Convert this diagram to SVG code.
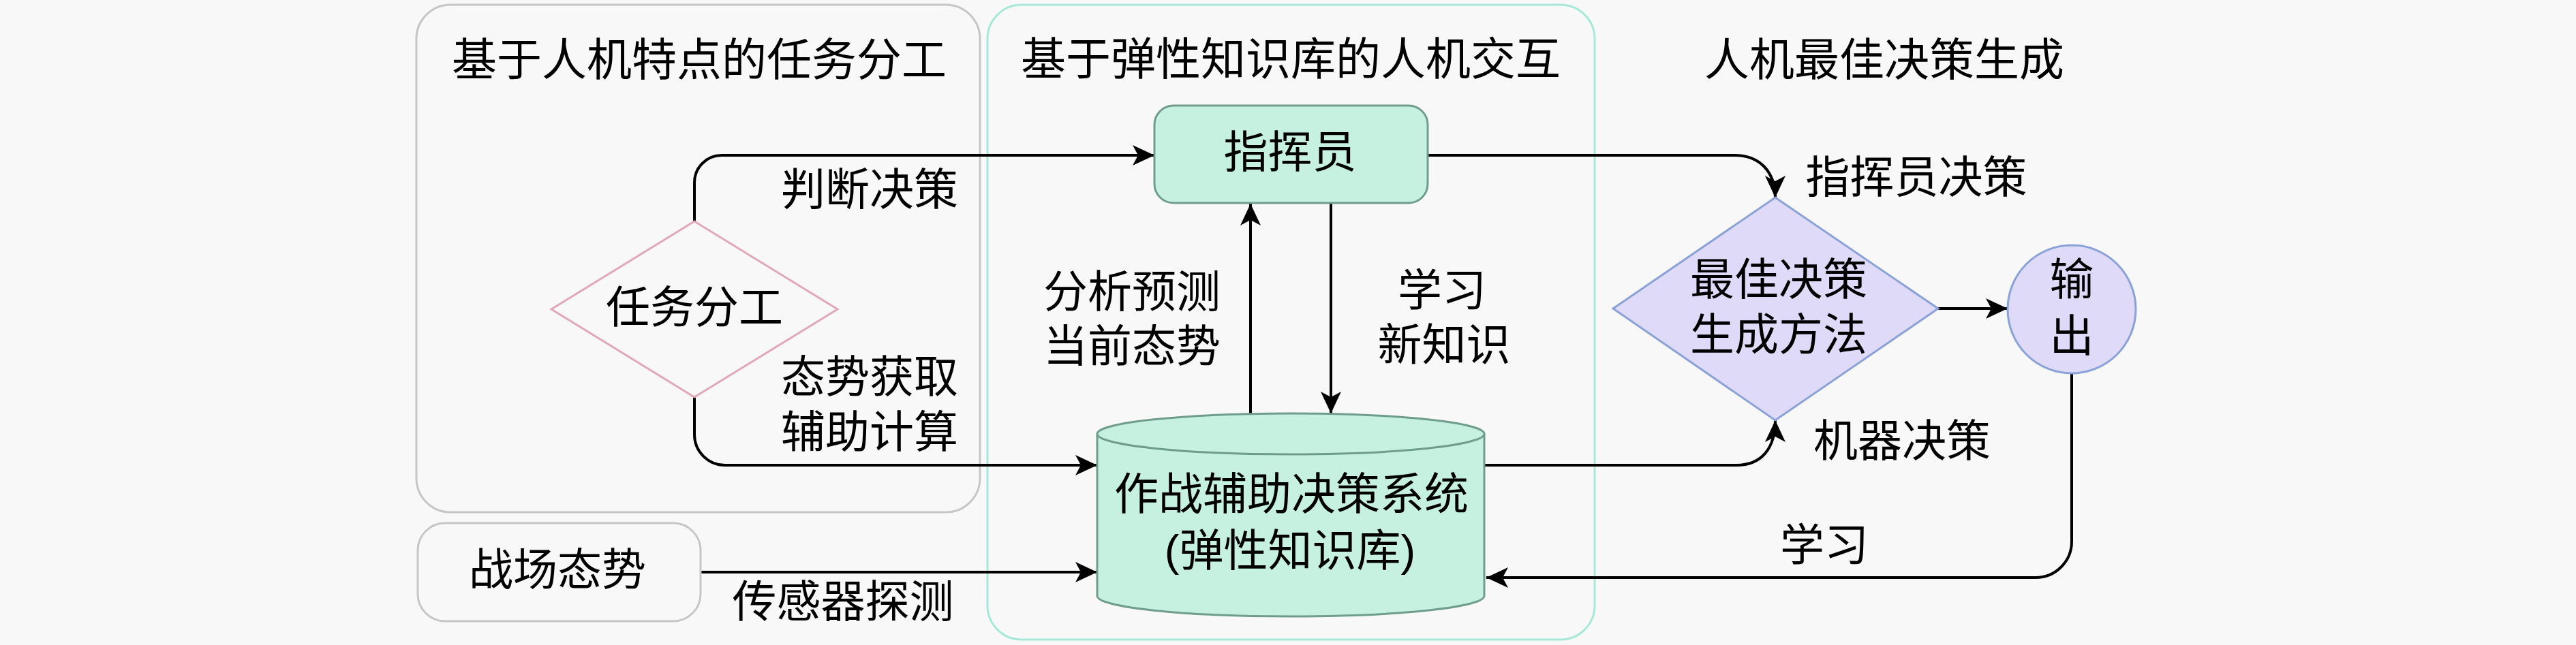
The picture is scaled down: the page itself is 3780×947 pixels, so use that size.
<svg xmlns="http://www.w3.org/2000/svg" width="3780" height="947" viewBox="0 0 3780 947">
<defs>
<style>
text{font-family:"Liberation Sans","Noto Sans CJK SC",sans-serif;font-size:65px;fill:#000;text-anchor:middle;dominant-baseline:central}
.title{font-size:66px}
.grp-gray{fill:none;stroke:#c6c6c6;stroke-width:3}
.grp-teal{fill:none;stroke:#a6e9d8;stroke-width:3}
.mint{fill:#c6f0e0;stroke:#6e9e8b;stroke-width:3}
.lav{fill:#dedaf8;stroke:#8aa2d6;stroke-width:3}
.pink{fill:#f8f8f8;stroke:#e0a8b8;stroke-width:3}
.plain{fill:#f8f8f8;stroke:#c6c6c6;stroke-width:3}
.edge{fill:none;stroke:#000;stroke-width:4;marker-end:url(#arr)}
</style>
<marker id="arr" markerUnits="userSpaceOnUse" markerWidth="36" markerHeight="34" refX="32" refY="15" orient="auto">
<path d="M0,0 L32,15 L0,30 L8,15 Z" fill="#000"/>
</marker>
</defs>
<rect x="0" y="0" width="3780" height="947" fill="#f8f8f8"/>

<g id="group-task">
<rect class="grp-gray" x="611" y="7" width="827" height="745" rx="50"/>
<text class="title" x="1026" y="88">基于人机特点的任务分工</text>
</g>
<g id="group-interaction">
<rect class="grp-teal" x="1449" y="7" width="891" height="932" rx="50"/>
<text class="title" x="1894" y="87">基于弹性知识库的人机交互</text>
</g>
<g id="group-best">
<text class="title" x="2765" y="88">人机最佳决策生成</text>
</g>

<g id="edges">
<path class="edge" d="M1019,325 V268 A40,40 0 0 1 1059,228 H1694"/>
<path class="edge" d="M1019,583 V638 A45,45 0 0 0 1064,683 H1610"/>
<path class="edge" d="M1028,840 H1610"/>
<path class="edge" d="M1835,607 V299"/>
<path class="edge" d="M1953,298 V607"/>
<path class="edge" d="M2095,228 H2545 C2582,228 2605,252 2605,290"/>
<path class="edge" d="M2178,683 H2548 C2585,683 2605,658 2605,617"/>
<path class="edge" d="M2844,453 H2946"/>
<path class="edge" d="M3040,548 V795 A53,53 0 0 1 2987,848 H2181"/>
<text x="1276" y="278">判断决策</text>
<text x="1276" y="553">态势获取<tspan x="1276" dy="81">辅助计算</tspan></text>
<text x="1237" y="883">传感器探测</text>
<text x="1661" y="428">分析预测<tspan x="1661" dy="80">当前态势</tspan></text>
<text x="2116" y="426">学习<tspan x="2119" dy="80">新知识</tspan></text>
<text x="2812" y="260">指挥员决策</text>
<text x="2791" y="647">机器决策</text>
<text x="2677" y="800">学习</text>
</g>

<g id="node-task-division">
<polygon class="pink" points="1019,325 1229,454 1019,583 809,454"/>
<text x="1019" y="451">任务分工</text>
</g>
<g id="node-battlefield">
<rect class="plain" x="613" y="768" width="415" height="144" rx="40"/>
<text x="818" y="836">战场态势</text>
</g>
<g id="node-commander">
<rect class="mint" x="1694" y="155" width="401" height="143" rx="28"/>
<text x="1893" y="223">指挥员</text>
</g>
<g id="node-system">
<path class="mint" d="M1610,637 A284,30 0 0 1 2178,637 V875 A284,30 0 0 1 1610,875 Z"/>
<path d="M1610,637 A284,30 0 0 0 2178,637" fill="none" stroke="#6e9e8b" stroke-width="3"/>
<text x="1895" y="725">作战辅助决策系统<tspan x="1893" dy="83">(弹性知识库)</tspan></text>
</g>
<g id="node-method">
<polygon class="lav" points="2605,290 2844,453 2605,617 2367,453"/>
<text x="2610" y="410">最佳决策<tspan x="2610" dy="81">生成方法</tspan></text>
</g>
<g id="node-output">
<circle class="lav" cx="3040" cy="454" r="94"/>
<text x="3040" y="410">输<tspan x="3040" dy="83">出</tspan></text>
</g>
</svg>
